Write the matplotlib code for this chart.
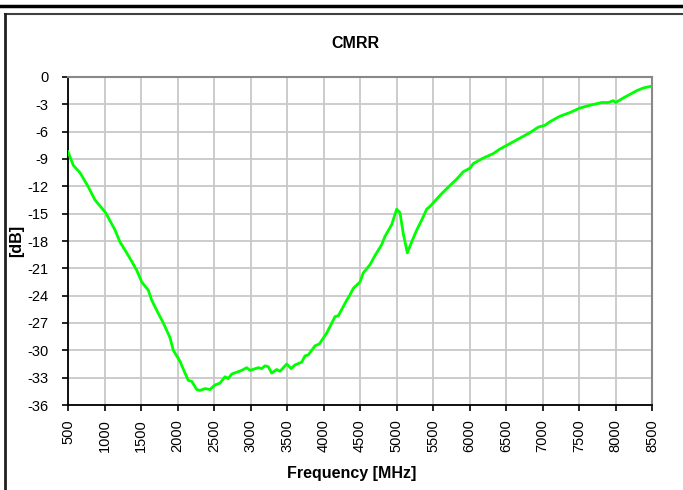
import matplotlib
matplotlib.use("Agg")
import matplotlib.pyplot as plt
from matplotlib.lines import Line2D

plt.rcParams['font.family'] = ['Liberation Sans', 'DejaVu Sans']

title = "CMRR"
xlabel = "Frequency [MHz]"
ylabel = "[dB]"

freq_mhz = [500, 573, 664, 774, 870, 1016, 1144, 1212, 1349, 1441, 1510, 1600, 1647,
            1715, 1806, 1897, 1943, 2034, 2103, 2148, 2195, 2263, 2308, 2377, 2445,
            2514, 2582, 2651, 2696, 2743, 2880, 2948, 2993, 3107, 3154, 3199, 3244,
            3290, 3359, 3404, 3496, 3555, 3610, 3701, 3747, 3792, 3884, 3943, 4044,
            4158, 4203, 4318, 4363, 4408, 4500, 4545, 4637, 4705, 4797, 4842, 4934,
            5003, 5048, 5093, 5148, 5208, 5277, 5345, 5414, 5459, 5527, 5619, 5733,
            5825, 5915, 6007, 6052, 6189, 6326, 6418, 6510, 6647, 6829, 6943, 7034,
            7103, 7240, 7377, 7514, 7651, 7811, 7902, 7970, 8003, 8107, 8176, 8291,
            8382, 8497]
cmrr_db = [-8.2, -9.7, -10.5, -12.0, -13.5, -14.9, -16.8, -18.1, -19.9, -21.2, -22.5,
           -23.4, -24.5, -25.6, -27.0, -28.6, -30.0, -31.2, -32.5, -33.3, -33.4, -34.3,
           -34.4, -34.2, -34.3, -33.8, -33.6, -32.9, -33.1, -32.6, -32.2, -31.9, -32.2,
           -31.9, -32.0, -31.7, -31.8, -32.5, -32.1, -32.3, -31.5, -32.0, -31.6, -31.3,
           -30.6, -30.5, -29.5, -29.3, -28.1, -26.3, -26.2, -24.5, -23.9, -23.2, -22.5,
           -21.5, -20.6, -19.6, -18.4, -17.5, -16.2, -14.5, -14.9, -17.2, -19.3, -18.1,
           -16.8, -15.7, -14.5, -14.2, -13.6, -12.8, -11.9, -11.2, -10.4, -10.0, -9.5,
           -8.9, -8.4, -7.9, -7.5, -6.9, -6.1, -5.5, -5.3, -4.9, -4.3, -3.9, -3.4, -3.1,
           -2.8, -2.8, -2.6, -2.8, -2.3, -2.0, -1.5, -1.2, -1.0]

x_ticks = list(range(500, 8501, 500))
y_ticks = list(range(-36, 1, 3))

fig = plt.figure(figsize=(6.83, 4.9), dpi=100)
fig.patch.set_facecolor('white')

# outer decorative frame
fig.add_artist(Line2D([0, 1], [1 - 6/490, 1 - 6/490], color='black', lw=2.5, transform=fig.transFigure))
fig.add_artist(Line2D([5/683, 1], [1 - 14/490, 1 - 14/490], color='#404040', lw=1.5, transform=fig.transFigure))
fig.add_artist(Line2D([5/683, 5/683], [0, 1 - 14/490], color='#202020', lw=2.0, transform=fig.transFigure))

ax = fig.add_axes([68/683, 1 - 405/490, (652 - 68)/683, (405 - 77)/490])
ax.plot(freq_mhz, cmrr_db, color='#00FF00', lw=2.0, zorder=3)

ax.set_xlim(500, 8500)
ax.set_ylim(-36, 0)
ax.set_xticks(x_ticks)
ax.set_yticks(y_ticks)
ax.set_xticklabels([str(v) for v in x_ticks], rotation=90, fontsize=10.5)
ax.set_yticklabels([str(v) for v in y_ticks], fontsize=10.5)
ax.grid(True, color='#c8c8c8', lw=1.3)
ax.set_axisbelow(True)

for s in ['left', 'bottom']:
    ax.spines[s].set_color('black')
    ax.spines[s].set_linewidth(1.3)
for s in ['top', 'right']:
    ax.spines[s].set_color('#888888')
    ax.spines[s].set_linewidth(1.5)

ax.tick_params(axis='both', direction='out', length=4, width=1.2, color='black')
ax.tick_params(axis='y', pad=10)
ax.tick_params(axis='x', pad=6)

ax.set_title(title, fontsize=11.5, fontweight='bold', pad=21, x=0.493)
ax.set_xlabel(xlabel, fontsize=11.5, fontweight='bold', labelpad=10)
ax.xaxis.label.set_x(0.485)
ax.set_ylabel(ylabel, fontsize=11.5, fontweight='bold', labelpad=2)

fig.savefig('out.png', dpi=100)
